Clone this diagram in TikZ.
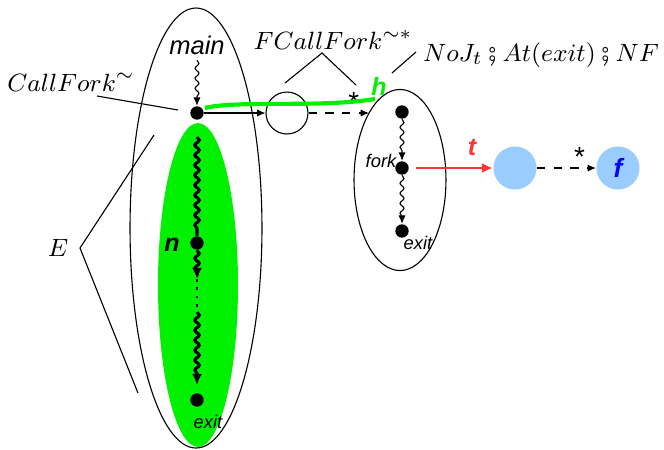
\documentclass[tikz,border=0pt]{standalone}
\usepackage{fontspec}
\setsansfont{Liberation Sans}
\usepackage{stmaryrd}
\usetikzlibrary{arrows.meta,decorations.pathmorphing,shapes.geometric,positioning}
\definecolor{stateblue}{RGB}{153,204,255}
\definecolor{tred}{RGB}{255,51,51}
\definecolor{hgreen}{RGB}{0,240,0}
\tikzset{
  dot/.style={circle, fill=black, inner sep=0pt, minimum size=4.8pt},
  state/.style={circle, fill=stateblue, inner sep=0pt, minimum size=15.5pt},
  tag/.style={font=\sffamily\itshape\fontsize{6.6}{7}\selectfont, inner sep=0pt},
  bigtag/.style={font=\sffamily\bfseries\itshape\fontsize{9}{10}\selectfont, inner sep=0pt},
  mathtag/.style={font=\fontsize{9.4}{10}\selectfont, inner sep=0pt},
  wavy/.style={-{Latex[length=3pt,width=2.6pt]}, decorate,
    decoration={snake, amplitude=0.7pt, segment length=3.6pt, post length=2.5pt}},
  thickwavy/.style={line width=1.1pt, decorate,
    decoration={snake, amplitude=0.8pt, segment length=3.6pt, post length=2.5pt}}
}
\begin{document}
\begin{tikzpicture}[x=0.36pt, y=-0.36pt]
  \useasboundingbox (0,0) rectangle (664,449);

  % procedure main
  \node[ellipse, fill=hgreen, minimum width=28.8pt, minimum height=116.6pt] (reach) at (198,285) {};
  \node[ellipse, draw, minimum width=47.5pt, minimum height=158.4pt] (E) at (196,228) {};
  \node[font=\sffamily\itshape\fontsize{9.2}{10}\selectfont] (mainlbl) at (197,45) {main};
  \node[dot] (main) at (197,113) {};
  \node[dot] (n) at (197,243) {};
  \node[dot] (exitm) at (197,400) {};
  \node[bigtag] at (172,245) {n};
  \node[tag] at (208,422) {exit};
  \draw[wavy] (mainlbl.south) ++(0,-4) coordinate (w0) -- (main);
  \coordinate (w1) at (197,137);
  \coordinate (w2) at (197,279);
  \coordinate (w3) at (197,312);
  \coordinate (w4) at (197,385);
  \draw[thickwavy] (w1) -- (n);
  \draw[thickwavy, -{Latex[length=4pt,width=3.6pt]}] (n) -- (w2);
  \draw[line width=1pt, dotted] (w2) -- (w3);
  \draw[thickwavy, -{Latex[length=4pt,width=3.6pt]}] (w3) -- (w4);

  % call node and forked procedure
  \node[circle, draw, minimum size=15.1pt, inner sep=0pt] (call) at (287,113) {};
  \node[ellipse, draw, minimum width=33.1pt, minimum height=65.2pt] (P) at (400,180) {};
  \node[dot] (top) at (402,112) {};
  \node[dot] (fork) at (402,168) {};
  \node[dot] (exitp) at (402,231) {};
  \node[tag] at (381,161) {fork};
  \node[tag] at (418,243) {exit};
  \draw[wavy] (top) -- (fork);
  \draw[wavy] (fork) -- (exitp);
  \coordinate (Pin) at (369,113);
  \draw[-{Latex[length=3pt,width=2.6pt]}] (main) -- (call);
  \draw[dashed, -{Latex[length=3pt,width=2.6pt]}] (call) -- node[pos=0.75, above=-3pt, font=\sffamily] {*} (Pin);

  % path h
  \coordinate (hend) at (375,99);
  \draw[hgreen, line width=1.5pt] ([xshift=1pt]main.north east) .. controls (240,100) and (320,108) .. (hend);
  \node[bigtag, text=hgreen] at (379,86) {h};

  % thread states
  \node[state] (s1) at (515,168) {};
  \node[state, font=\sffamily\bfseries\itshape\fontsize{9.5}{10}\selectfont, text=blue] (f) at (618,168) {f};
  \draw[tred, line width=0.9pt, -{Latex[length=4pt,width=3.6pt]}, shorten <=2.5pt] (fork) -- node[pos=0.75, above=4pt, bigtag, text=tred] {t} (s1);
  \draw[dashed, -{Latex[length=3pt,width=2.6pt]}] (s1) -- node[pos=0.72, above=-3pt, font=\sffamily] {*} (f);

  % labels
  \node[mathtag] (cflbl) at (71,82) {$CallFork^{\sim}$};
  \draw (97,96) coordinate (c0) -- (178,110) coordinate (c1);
  \node[mathtag] (fcflbl) at (333,40) {$FCallFork^{\sim *}$};
  \coordinate (fc) at (322,53);
  \draw (285,83) -- (fc) -- (356,85);
  \node[mathtag] (nojlbl) at (541,55) {$NoJ_t \fatsemi At(exit) \fatsemi NF$};
  \draw (416,52) -- (392,73);
  \node[mathtag] (Elbl) at (58,248) {$E$};
  \coordinate (e0) at (80,248);
  \draw (154,135) -- (e0) -- (138,393);
\end{tikzpicture}
\end{document}
